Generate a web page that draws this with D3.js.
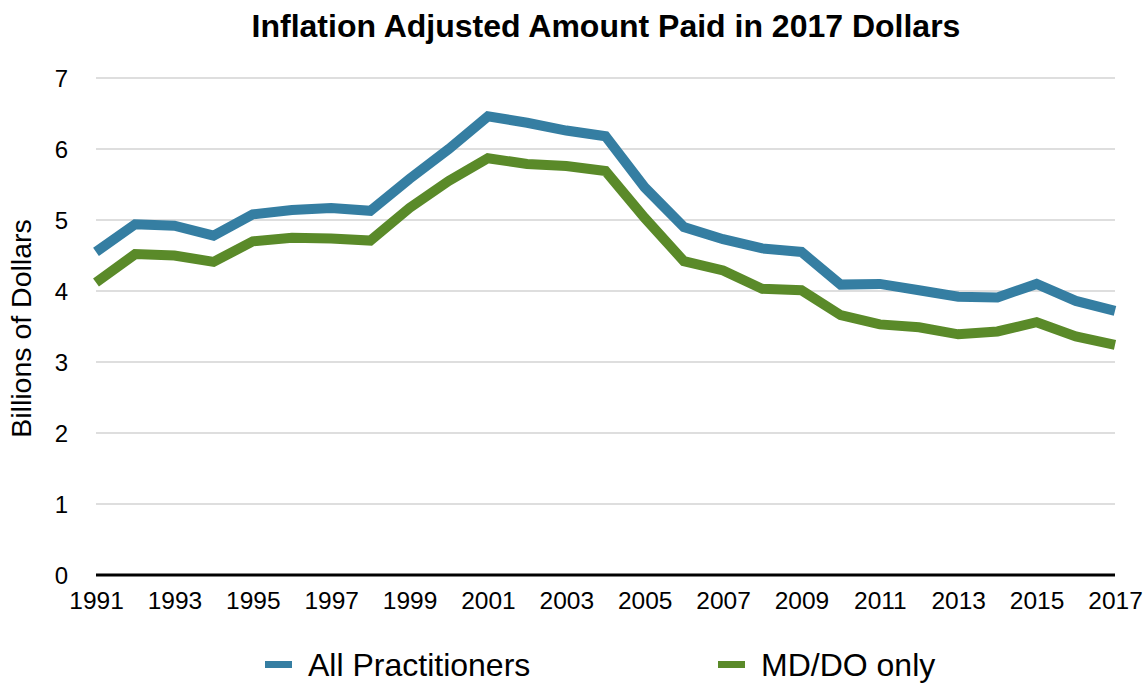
<!DOCTYPE html>
<html>
<head>
<meta charset="utf-8">
<script src="https://cdn.jsdelivr.net/npm/d3@7"></script>
<style>
  body { margin: 0; background: #fff; }
  text { font-family: "Liberation Sans", Arial, Helvetica, sans-serif; fill: #000; }
</style>
</head>
<body>
<svg id="chart" width="1148" height="683"></svg>
<script>
var years = d3.range(1991, 2018);
var allPractitioners = [4.55, 4.94, 4.92, 4.78, 5.08, 5.14, 5.17, 5.13, 5.58, 6.0, 6.46, 6.37, 6.26, 6.18,
  5.46, 4.9, 4.73, 4.6, 4.55, 4.09, 4.1, 4.01, 3.92, 3.91, 4.1, 3.86, 3.72];
var mdDoOnly = [4.12, 4.52, 4.5, 4.41, 4.7, 4.75, 4.74, 4.71, 5.17, 5.55, 5.87, 5.79, 5.76, 5.69,
  5.03, 4.42, 4.29, 4.03, 4.01, 3.66, 3.53, 3.49, 3.39, 3.43, 3.56, 3.36, 3.24];
var yTicks = [0, 1, 2, 3, 4, 5, 6, 7];
var xTickYears = d3.range(1991, 2018, 2);

var series = [
  {name: "All Practitioners", values: allPractitioners, color: "#357ea2"},
  {name: "MD/DO only", values: mdDoOnly, color: "#5a8a29"}
];

var svg = d3.select("#chart");
var plotLeft = 96, plotRight = 1115, plotTop = 78, plotBottom = 575;

var x = d3.scaleLinear().domain([1991, 2017]).range([plotLeft, plotRight]);
var y = d3.scaleLinear().domain([0, 7]).range([plotBottom, plotTop]);

// title
svg.append("text")
   .attr("x", 606).attr("y", 37)
   .attr("text-anchor", "middle")
   .style("font-size", "32px")
   .style("font-weight", "bold")
   .text("Inflation Adjusted Amount Paid in 2017 Dollars");

// gridlines
svg.append("g")
   .selectAll("line")
   .data(yTicks.filter(function(d){ return d > 0; }))
   .enter().append("line")
     .attr("x1", plotLeft).attr("x2", plotRight)
     .attr("y1", function(d){ return y(d); })
     .attr("y2", function(d){ return y(d); })
     .style("stroke", "#d3d3d3")
     .style("stroke-width", 1.5);

// y axis labels
var yAxis = d3.axisLeft(y).tickValues(yTicks).tickFormat(d3.format("d")).tickSize(0).tickPadding(28);
svg.append("g")
   .attr("transform", "translate(" + plotLeft + ",0)")
   .call(yAxis)
   .call(function(g){ g.select(".domain").remove(); })
   .selectAll("text")
     .style("font-size", "24px")
     .attr("dy", "0.36em");

// x axis
var xAxis = d3.axisBottom(x).tickValues(xTickYears).tickFormat(d3.format("d")).tickSize(0).tickPadding(17);
svg.append("g")
   .attr("transform", "translate(0," + plotBottom + ")")
   .call(xAxis)
   .call(function(g){ g.select(".domain").remove(); })
   .selectAll("text")
     .style("font-size", "24.5px");

svg.append("line")
   .attr("x1", plotLeft).attr("x2", plotRight)
   .attr("y1", plotBottom).attr("y2", plotBottom)
   .style("stroke", "#000")
   .style("stroke-width", 3);

// y axis title
svg.append("text")
   .attr("transform", "translate(31," + ((plotTop + plotBottom) / 2 + 2) + ") rotate(-90)")
   .attr("text-anchor", "middle")
   .style("font-size", "28.5px")
   .text("Billions of Dollars");

// lines
var line = d3.line()
  .x(function(d, i){ return x(years[i]); })
  .y(function(d){ return y(d); });

svg.append("g")
   .selectAll("path")
   .data(series)
   .enter().append("path")
     .attr("d", function(s){ return line(s.values); })
     .style("fill", "none")
     .style("stroke", function(s){ return s.color; })
     .style("stroke-width", 10)
     .style("stroke-linejoin", "miter");

// legend
var legendX = [265, 718];
var legend = svg.append("g")
   .selectAll("g")
   .data(series)
   .enter().append("g")
     .attr("transform", function(s, i){ return "translate(" + legendX[i] + ",665)"; });

legend.append("rect")
   .attr("x", 0).attr("y", -4)
   .attr("width", 27).attr("height", 7)
   .style("fill", function(s){ return s.color; });

legend.append("text")
   .attr("x", 43).attr("y", 11)
   .style("font-size", "32px")
   .text(function(s){ return s.name; });
</script>
</body>
</html>
